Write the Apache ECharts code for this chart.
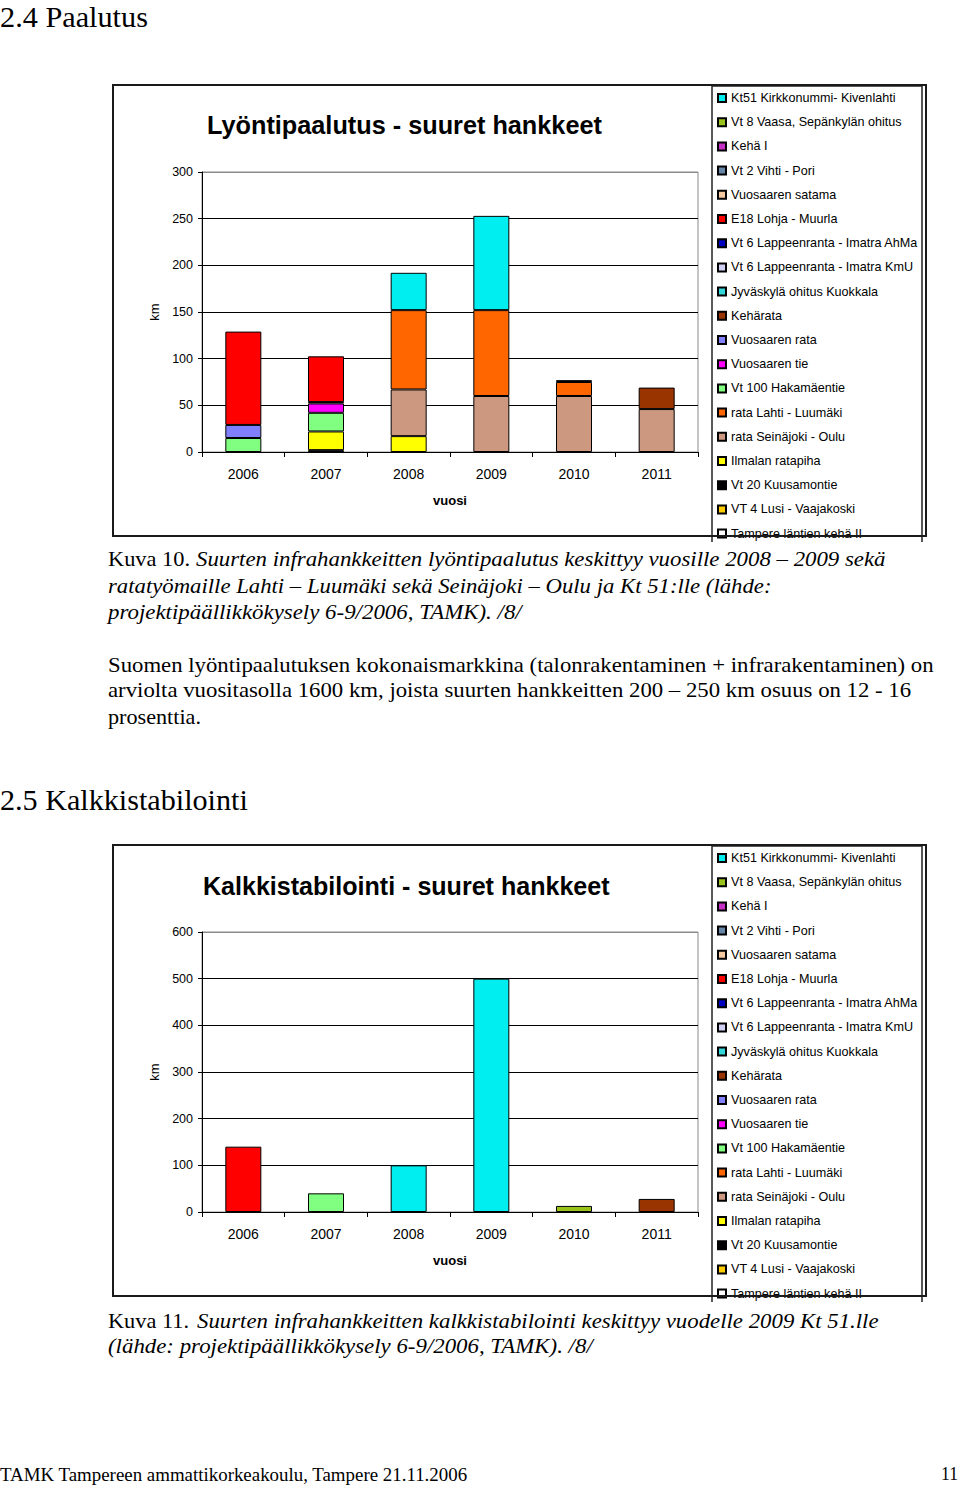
<!DOCTYPE html>
<html>
<head>
<meta charset="utf-8">
<script src="https://cdn.jsdelivr.net/npm/echarts/dist/echarts.min.js"></script>
<style>
html,body{margin:0;padding:0;background:#fff;}
#page{width:960px;height:1486px;}
</style>
</head>
<body>
<div id="page"></div>
<script>
// ---------- DATA ----------
const years = ['2006', '2007', '2008', '2009', '2010', '2011'];
const projects = [
  'Kt51 Kirkkonummi- Kivenlahti',
  'Vt 8 Vaasa, Sepänkylän ohitus',
  'Kehä I',
  'Vt 2 Vihti - Pori',
  'Vuosaaren satama',
  'E18 Lohja - Muurla',
  'Vt 6 Lappeenranta - Imatra AhMa',
  'Vt 6 Lappeenranta - Imatra KmU',
  'Jyväskylä ohitus Kuokkala',
  'Kehärata',
  'Vuosaaren rata',
  'Vuosaaren tie',
  'Vt 100 Hakamäentie',
  'rata Lahti - Luumäki',
  'rata Seinäjoki - Oulu',
  'Ilmalan ratapiha',
  'Vt 20 Kuusamontie',
  'VT 4 Lusi - Vaajakoski',
  'Tampere läntien kehä II'
];
// Lyöntipaalutus (km)
const pileKt51 = [0, 0, 40, 101, 0, 0];
const pileE18 = [100, 49, 0, 0, 0, 0];
const pileVt6AhMa = [0, 1.5, 0, 0, 2, 0];
const pileKeharata = [0, 0, 0, 0, 0, 23];
const pileVuosaarenRata = [14, 0, 0, 0, 0, 0];
const pileVuosaarenTie = [0, 10, 0, 0, 0, 0];
const pileVt100 = [15, 20, 0, 0, 0, 0];
const pileLahti = [0, 0, 85, 92, 15, 0];
const pileSeinajoki = [0, 0, 50, 60, 60, 46];
const pileIlmala = [0, 20, 17, 0, 0, 0];
const pileVt20 = [0, 2, 0, 0, 0, 0];
// Kalkkistabilointi (km)
const limeKt51 = [0, 0, 100, 500, 0, 0];
const limeE18 = [140, 0, 0, 0, 0, 0];
const limeVt100 = [0, 40, 0, 0, 0, 0];
const limeVt8 = [0, 0, 0, 0, 13, 0];
const limeKeharata = [0, 0, 0, 0, 0, 28];

const pileByProject = {
  'Kt51 Kirkkonummi- Kivenlahti': pileKt51,
  'E18 Lohja - Muurla': pileE18,
  'Vt 6 Lappeenranta - Imatra AhMa': pileVt6AhMa,
  'Kehärata': pileKeharata,
  'Vuosaaren rata': pileVuosaarenRata,
  'Vuosaaren tie': pileVuosaarenTie,
  'Vt 100 Hakamäentie': pileVt100,
  'rata Lahti - Luumäki': pileLahti,
  'rata Seinäjoki - Oulu': pileSeinajoki,
  'Ilmalan ratapiha': pileIlmala,
  'Vt 20 Kuusamontie': pileVt20
};
const limeByProject = {
  'Kt51 Kirkkonummi- Kivenlahti': limeKt51,
  'E18 Lohja - Muurla': limeE18,
  'Vt 100 Hakamäentie': limeVt100,
  'Vt 8 Vaasa, Sepänkylän ohitus': limeVt8,
  'Kehärata': limeKeharata
};

// ---------- STYLE ----------
const palette = {
  'Kt51 Kirkkonummi- Kivenlahti': '#00EEF0',
  'Vt 8 Vaasa, Sepänkylän ohitus': '#99C21A',
  'Kehä I': '#C62FC6',
  'Vt 2 Vihti - Pori': '#6686A8',
  'Vuosaaren satama': '#F5C9A0',
  'E18 Lohja - Muurla': '#FF0000',
  'Vt 6 Lappeenranta - Imatra AhMa': '#0000C0',
  'Vt 6 Lappeenranta - Imatra KmU': '#D0D0F4',
  'Jyväskylä ohitus Kuokkala': '#33D6D6',
  'Kehärata': '#993300',
  'Vuosaaren rata': '#8080FF',
  'Vuosaaren tie': '#FF00FF',
  'Vt 100 Hakamäentie': '#80FF80',
  'rata Lahti - Luumäki': '#FF6600',
  'rata Seinäjoki - Oulu': '#CC9980',
  'Ilmalan ratapiha': '#FFFF00',
  'Vt 20 Kuusamontie': '#000000',
  'VT 4 Lusi - Vaajakoski': '#FFCC00',
  'Tampere läntien kehä II': '#FFFFFF'
};
const SANS = 'Liberation Sans, Arial, sans-serif';
const SERIF = 'Liberation Serif, Times New Roman, serif';

const zeroless = arr => arr.map(v => (v ? v : '-'));
const stackOrder = projects.slice().reverse(); // bottom of stack first

function makeSeries(byProject, idx, stack) {
  return stackOrder.map(name => ({
    name: name,
    type: 'bar',
    stack: stack,
    xAxisIndex: idx,
    yAxisIndex: idx,
    barWidth: 36,
    data: zeroless(byProject[name] || [0, 0, 0, 0, 0, 0]),
    itemStyle: { color: palette[name], borderColor: '#000', borderWidth: 1 },
    emphasis: { disabled: true },
    animation: false
  }));
}

// ---------- TEXT FITTING ----------
const mctx = document.createElement('canvas').getContext('2d');
function fitText(text, x, yc, target, size, fstyle, weight, family) {
  family = family || SERIF;
  mctx.font = fstyle + ' ' + weight + ' ' + size + 'px ' + family;
  const w = mctx.measureText(text).width;
  return {
    type: 'text', x: x, y: yc, scaleX: target / w, z: 50,
    style: {
      text: text, fontSize: size, fontFamily: family, fontStyle: fstyle, fontWeight: weight,
      fill: '#000', textVerticalAlign: 'middle', verticalAlign: 'middle'
    }
  };
}

function grid(top) {
  return { left: 202, top: top, width: 496, height: 280, show: true, borderColor: '#8a8a8a', borderWidth: 1, backgroundColor: 'transparent' };
}
function xAxis(idx) {
  return {
    type: 'category', gridIndex: idx, data: years,
    name: 'vuosi', nameLocation: 'middle', nameGap: 42,
    nameTextStyle: { fontFamily: SANS, fontSize: 13, fontWeight: 'bold', color: '#000' },
    axisLine: { lineStyle: { color: '#000', width: 1 } },
    axisTick: { show: true, length: 5, lineStyle: { color: '#000' } },
    axisLabel: { fontFamily: SANS, fontSize: 14, color: '#000', margin: 15 },
    splitLine: { show: false }
  };
}
function yAxis(idx, max, interval) {
  return {
    type: 'value', gridIndex: idx, min: 0, max: max, interval: interval,
    name: 'km', nameLocation: 'middle', nameGap: 38, nameRotate: 90,
    nameTextStyle: { fontFamily: SANS, fontSize: 13, color: '#000' },
    axisLine: { show: true, lineStyle: { color: '#000', width: 1 } },
    axisTick: { show: true, length: 4, lineStyle: { color: '#000' } },
    axisLabel: { fontFamily: SANS, fontSize: 12.5, color: '#000', margin: 9 },
    splitLine: { show: true, lineStyle: { color: ['#000', '#000', '#000', '#000', '#000', '#000', '#8a8a8a'], width: 1 } }
  };
}
function legend(top) {
  return {
    orient: 'vertical', left: 717, top: top, padding: 0,
    data: projects, icon: 'rect', itemWidth: 8, itemHeight: 8, itemGap: 10.2,
    selectedMode: false,
    textStyle: { fontFamily: SANS, fontSize: 12.6, color: '#000', lineHeight: 14, padding: [0, 0, 0, 0] }
  };
}
function boxes(top, bottom) {
  return [
    { type: 'polyline', z: 60, shape: { points: [[712, top + 1], [712, bottom + 6]] }, style: { stroke: '#222', lineWidth: 1.5, fill: null } },
    { type: 'polyline', z: 60, shape: { points: [[712, top + 1], [922, top + 1], [922, bottom + 6]] }, style: { stroke: '#222', lineWidth: 1.5, fill: null } },
    { type: 'rect', z: 61, shape: { x: 113, y: top, width: 813, height: bottom - top }, style: { stroke: '#1a1a1a', lineWidth: 2, fill: null } }
  ];
}

const graphics = [].concat(
  boxes(85, 536),
  boxes(845, 1296),
  [
    fitText('Lyöntipaalutus - suuret hankkeet', 207, 125, 395, 25, 'normal', 'bold', SANS),
    fitText('Kalkkistabilointi - suuret hankkeet', 203, 886, 407, 25, 'normal', 'bold', SANS),
    fitText('2.4 Paalutus', 0, 17, 148, 29, 'normal', 'normal'),
    fitText('Kuva 10.', 108, 559, 82, 22, 'normal', 'normal'),
    fitText('Suurten infrahankkeitten lyöntipaalutus keskittyy vuosille 2008 – 2009 sekä', 196, 559, 690, 22, 'italic', 'normal'),
    fitText('ratatyömaille Lahti – Luumäki sekä Seinäjoki – Oulu ja Kt 51:lle (lähde:', 108, 586, 664, 22, 'italic', 'normal'),
    fitText('projektipäällikkökysely 6-9/2006, TAMK). /8/', 108, 612, 414, 22, 'italic', 'normal'),
    fitText('Suomen lyöntipaalutuksen kokonaismarkkina (talonrakentaminen + infrarakentaminen) on', 108, 665, 826, 22, 'normal', 'normal'),
    fitText('arviolta vuositasolla 1600 km, joista suurten hankkeitten 200 – 250 km osuus on 12 - 16', 108, 690, 804, 22, 'normal', 'normal'),
    fitText('prosenttia.', 108, 717, 93, 22, 'normal', 'normal'),
    fitText('2.5 Kalkkistabilointi', 0, 800, 248, 30, 'normal', 'normal'),
    fitText('Kuva 11.', 108, 1321, 81, 22, 'normal', 'normal'),
    fitText('Suurten infrahankkeitten kalkkistabilointi keskittyy vuodelle 2009 Kt 51.lle', 197, 1321, 682, 22, 'italic', 'normal'),
    fitText('(lähde: projektipäällikkökysely 6-9/2006, TAMK). /8/', 108, 1346, 485, 22, 'italic', 'normal'),
    fitText('TAMK Tampereen ammattikorkeakoulu, Tampere 21.11.2006', 0, 1474, 468, 19, 'normal', 'normal'),
    fitText('11', 941, 1474, 17, 19, 'normal', 'normal')
  ]
);

const chart = echarts.init(document.getElementById('page'), null, { renderer: 'svg', width: 960, height: 1486 });
chart.setOption({
  animation: false,
  backgroundColor: '#fff',
  grid: [grid(172), grid(932)],
  xAxis: [xAxis(0), xAxis(1)],
  yAxis: [yAxis(0, 300, 50), yAxis(1, 600, 100)],
  legend: [legend(91), legend(851)],
  series: [].concat(makeSeries(pileByProject, 0, 'pile'), makeSeries(limeByProject, 1, 'lime')),
  graphic: graphics
});
</script>
</body>
</html>
